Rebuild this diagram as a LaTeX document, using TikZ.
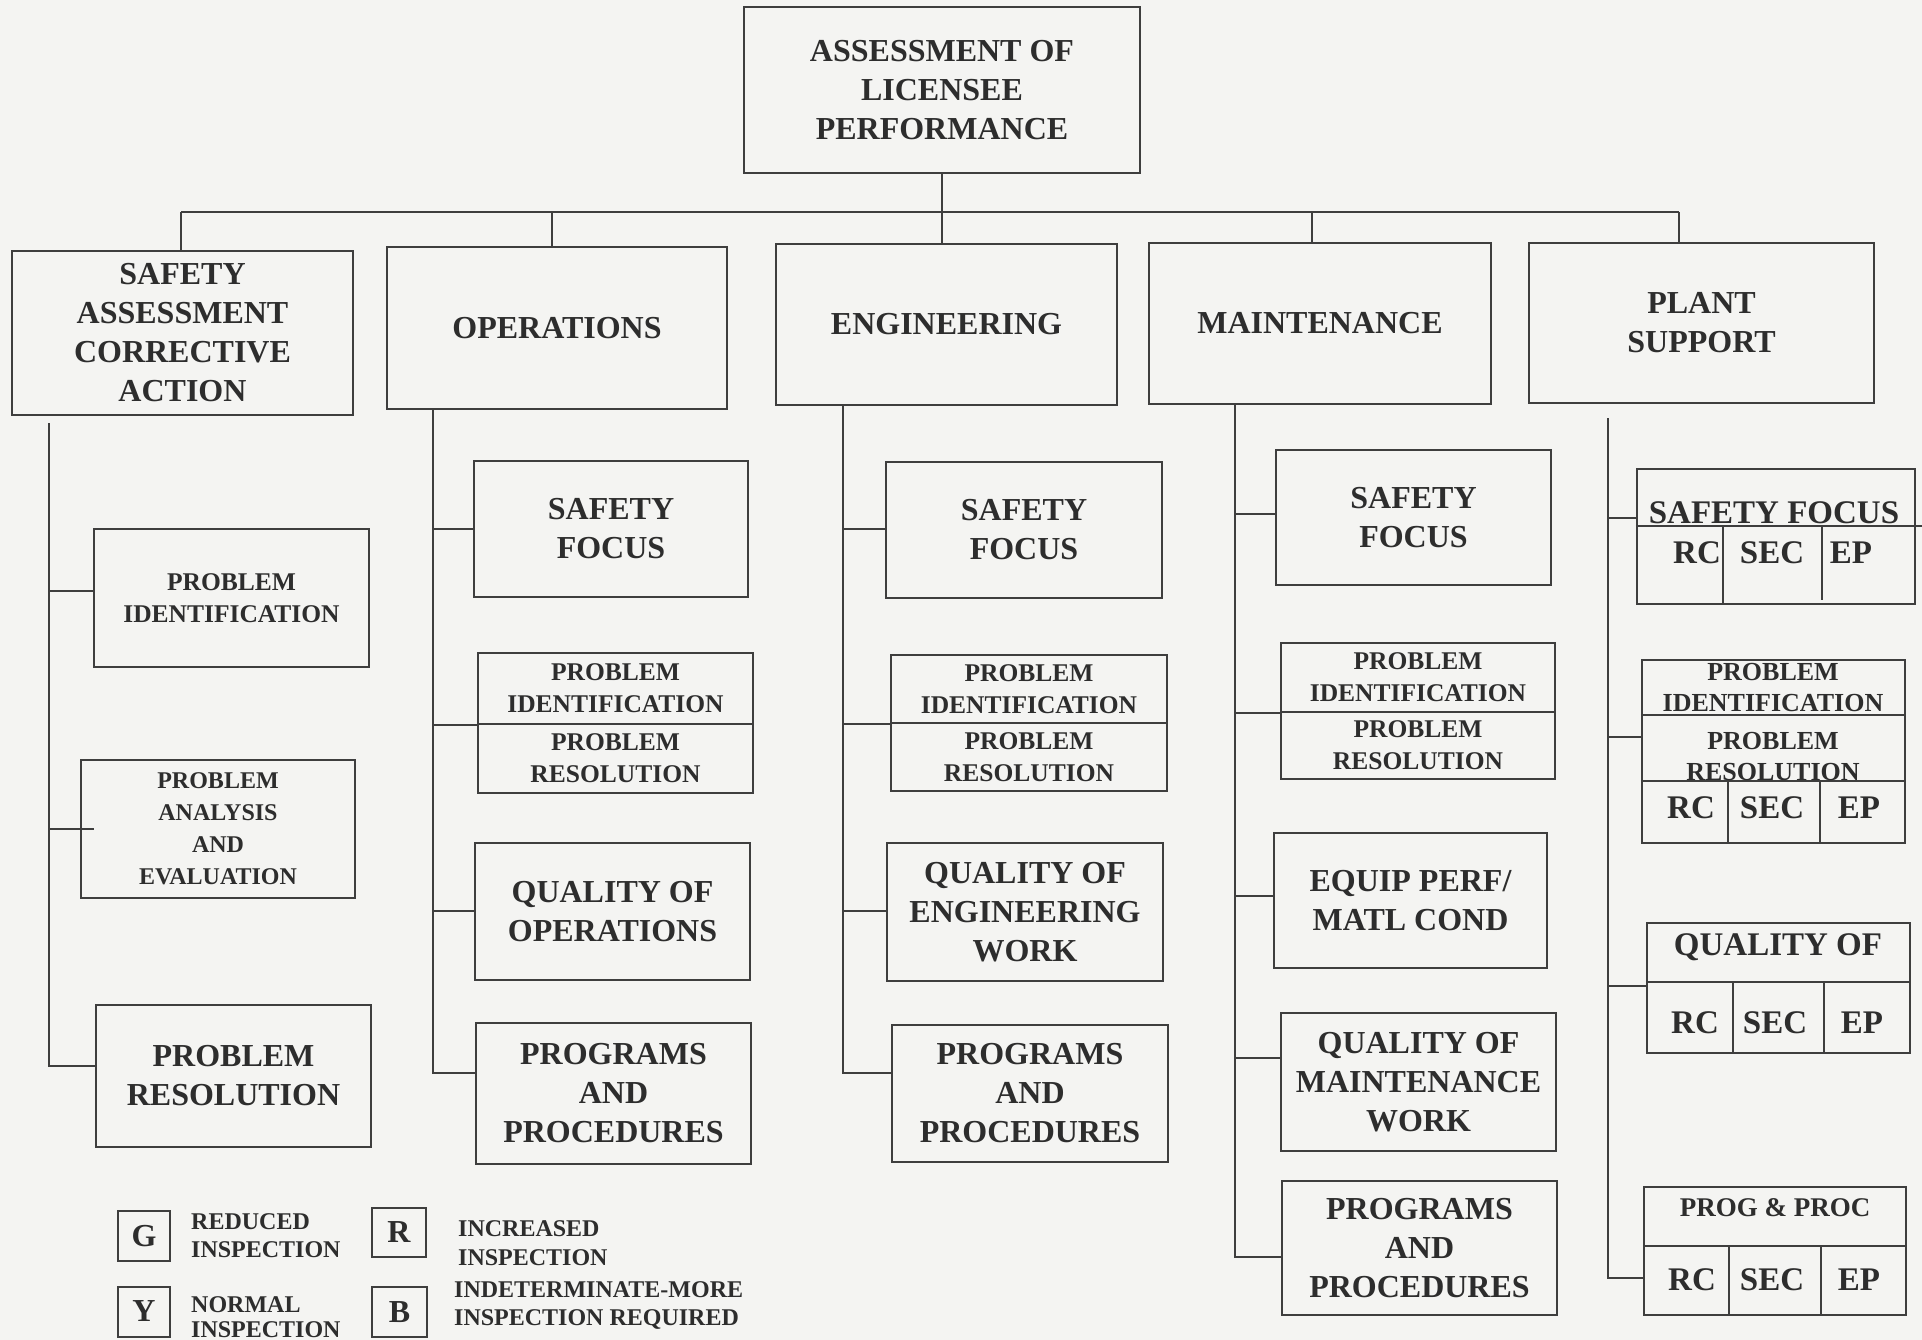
\documentclass[tikz,border=0pt]{standalone}
\usepackage{fontspec}
\setmainfont{Liberation Serif}
\definecolor{bg}{RGB}{244,244,242}
\definecolor{lc}{RGB}{62,62,62}
\definecolor{tc}{RGB}{45,45,45}
\begin{document}
\begin{tikzpicture}[x=1pt,y=-1pt,
  ln/.style={line width=2.4pt, draw=lc},
  bx/.style={draw=lc, line width=2.4pt, inner sep=0pt, align=center, text=tc,
     font=\bfseries\fontsize{32}{39}\selectfont},
  sm/.style={font=\bfseries\fontsize{25.5}{32}\selectfont},
  xs/.style={font=\bfseries\fontsize{24}{32}\selectfont},
  lbl/.style={inner sep=0pt, align=center, text=tc, font=\bfseries\fontsize{32}{39}\selectfont},
  lbs/.style={inner sep=0pt, align=center, text=tc, font=\bfseries\fontsize{26}{31}\selectfont},
  lgbox/.style={draw=lc, line width=2pt, inner sep=0pt, text=tc, minimum width=52pt, minimum height=50pt,
     font=\bfseries\fontsize{32}{36}\selectfont},
  lgtxt/.style={inner sep=0pt, anchor=west, align=left, text=tc, font=\bfseries\fontsize{24}{28}\selectfont},
]
\fill[bg] (0,0) rectangle (1922,1340);
\useasboundingbox (0,0) rectangle (1922,1340);

% top
\node[bx, minimum width=396pt, minimum height=166pt] (top) at (942,90) {ASSESSMENT OF\\LICENSEE\\PERFORMANCE};

% categories
\node[bx, minimum width=341pt, minimum height=164pt] (saca) at (182.5,333) {SAFETY\\ASSESSMENT\\CORRECTIVE\\ACTION};
\node[bx, minimum width=340pt, minimum height=162pt] (ops) at (557,328) {OPERATIONS};
\node[bx, minimum width=341pt, minimum height=161pt] (eng) at (946.5,324.5) {ENGINEERING};
\node[bx, minimum width=342pt, minimum height=161pt] (mnt) at (1320,323.5) {MAINTENANCE};
\node[bx, minimum width=345pt, minimum height=160pt] (ps) at (1701.5,323) {PLANT\\SUPPORT};

% bus
\coordinate (busL) at (181,212);
\coordinate (busR) at (1679,212);
\coordinate (dOps) at (552,212);
\coordinate (dMnt) at (1312,212);
\draw[ln] (top.south) -- (top.south |- busL);
\draw[ln] (busL) -- (busR);
\draw[ln] (busL) -- (busL |- saca.north);
\draw[ln] (dOps) -- (dOps |- ops.north);
\draw[ln] (top.south |- busL) -- (top.south |- eng.north);
\draw[ln] (dMnt) -- (dMnt |- mnt.north);
\draw[ln] (busR) -- (busR |- ps.north);

% SACA column
\node[bx, sm, minimum width=275pt, minimum height=138pt] (sPI) at (231.5,598) {PROBLEM\\IDENTIFICATION};
\node[bx, xs, minimum width=274pt, minimum height=138pt] (sPA) at (218,829) {PROBLEM\\ANALYSIS\\AND\\EVALUATION};
\node[bx, minimum width=275pt, minimum height=142pt] (sPR) at (233.5,1076) {PROBLEM\\RESOLUTION};
\coordinate (sTop) at (49,423);
\coordinate (sBot) at (49,1066);
\coordinate (sC1) at (49,591);
\coordinate (sC2) at (49,829);
\draw[ln] (sTop) -- (sBot) -- (sBot -| sPR.west);
\draw[ln] (sC1) -- (sC1 -| sPI.west);
\draw[ln] (sC2) -- ([xshift=14pt]sC2 -| sPA.west);

% OPERATIONS column
\node[bx, minimum width=274pt, minimum height=136pt] (oSF) at (611,529) {SAFETY\\FOCUS};
\node[bx, sm, minimum width=275pt, minimum height=71pt] (oPI) at (615.5,688.5) {PROBLEM\\IDENTIFICATION};
\node[bx, sm, minimum width=275pt, minimum height=69pt] (oPR) at (615.5,758.5) {PROBLEM\\RESOLUTION};
\node[bx, minimum width=275pt, minimum height=137pt] (oQ) at (612.5,911.5) {QUALITY OF\\OPERATIONS};
\node[bx, minimum width=275pt, minimum height=141pt] (oPP) at (613.5,1093.5) {PROGRAMS\\AND\\PROCEDURES};
\coordinate (oBot) at (433,1073);
\coordinate (oC1) at (433,529);
\coordinate (oC3) at (433,911);
\draw[ln] (ops.south -| oBot) -- (oBot) -- (oBot -| oPP.west);
\draw[ln] (oC1) -- (oC1 -| oSF.west);
\draw[ln] (oBot |- oPI.south) -- (oPI.south west);
\draw[ln] (oC3) -- (oC3 -| oQ.west);

% ENGINEERING column
\node[bx, minimum width=276pt, minimum height=136pt] (eSF) at (1024,530) {SAFETY\\FOCUS};
\node[bx, sm, minimum width=276pt, minimum height=68pt] (ePI) at (1029,689) {PROBLEM\\IDENTIFICATION};
\node[bx, sm, minimum width=276pt, minimum height=68pt] (ePR) at (1029,757) {PROBLEM\\RESOLUTION};
\node[bx, minimum width=276pt, minimum height=138pt] (eQ) at (1025,912) {QUALITY OF\\ENGINEERING\\WORK};
\node[bx, minimum width=276pt, minimum height=137pt] (ePP) at (1030,1093.5) {PROGRAMS\\AND\\PROCEDURES};
\coordinate (eBot) at (843,1073);
\coordinate (eC1) at (843,529);
\coordinate (eC3) at (843,911);
\draw[ln] (eng.south -| eBot) -- (eBot) -- (eBot -| ePP.west);
\draw[ln] (eC1) -- (eC1 -| eSF.west);
\draw[ln] (eBot |- ePI.south) -- (ePI.south west);
\draw[ln] (eC3) -- (eC3 -| eQ.west);

% MAINTENANCE column
\node[bx, minimum width=275pt, minimum height=135pt] (mSF) at (1413.5,517.5) {SAFETY\\FOCUS};
\node[bx, sm, minimum width=274pt, minimum height=69pt] (mPI) at (1418,677.5) {PROBLEM\\IDENTIFICATION};
\node[bx, sm, minimum width=274pt, minimum height=67pt] (mPR) at (1418,745.5) {PROBLEM\\RESOLUTION};
\node[bx, minimum width=273pt, minimum height=135pt] (mEQ) at (1410.5,900.5) {EQUIP PERF/\\MATL COND};
\node[bx, minimum width=275pt, minimum height=138pt] (mQ) at (1418.5,1082) {QUALITY OF\\MAINTENANCE\\WORK};
\node[bx, minimum width=275pt, minimum height=134pt] (mPP) at (1419.5,1248) {PROGRAMS\\AND\\PROCEDURES};
\coordinate (mBot) at (1235,1257);
\coordinate (mC1) at (1235,514);
\coordinate (mC3) at (1235,896);
\coordinate (mC4) at (1235,1058);
\draw[ln] (mnt.south -| mBot) -- (mBot) -- (mBot -| mPP.west);
\draw[ln] (mC1) -- (mC1 -| mSF.west);
\draw[ln] (mBot |- mPI.south) -- (mPI.south west);
\draw[ln] (mC3) -- (mC3 -| mEQ.west);
\draw[ln] (mC4) -- (mC4 -| mQ.west);

% PLANT SUPPORT column
\node[bx, minimum width=278pt, minimum height=135pt] (pSF) at (1776,536.5) {};
\draw[ln] (pSF.west |- 0,526) -- (1922,526);
\draw[ln] (1723,526) -- (1723,604);
\draw[ln] (1822,526) -- (1822,600);
\node[lbl, font=\bfseries\fontsize{33}{39}\selectfont] (pSFt) at (1774,513) {SAFETY FOCUS};
\node[lbl, font=\bfseries\fontsize{33}{39}\selectfont] (pSFa) at (1697,553) {RC};
\node[lbl, font=\bfseries\fontsize{33}{39}\selectfont] (pSFb) at (1772,553) {SEC};
\node[lbl, font=\bfseries\fontsize{33}{39}\selectfont] (pSFc) at (1851,553) {EP};

\node[bx, minimum width=263pt, minimum height=183pt] (pPI) at (1773.5,751.5) {};
\draw[ln] (pPI.west |- 0,715) -- (pPI.east |- 0,715);
\draw[ln] (pPI.west |- 0,781) -- (pPI.east |- 0,781);
\draw[ln] (1728,781) -- (1728,843);
\draw[ln] (1820,781) -- (1820,843);
\node[lbs] (pPIt) at (1773,688) {PROBLEM\\IDENTIFICATION};
\node[lbs] (pPRt) at (1773,757) {PROBLEM\\RESOLUTION};
\node[lbl, font=\bfseries\fontsize{33}{39}\selectfont] (pPIa) at (1691,808) {RC};
\node[lbl, font=\bfseries\fontsize{33}{39}\selectfont] (pPIb) at (1772,808) {SEC};
\node[lbl, font=\bfseries\fontsize{33}{39}\selectfont] (pPIc) at (1859,808) {EP};

\node[bx, minimum width=263pt, minimum height=130pt] (pQ) at (1778.5,988) {};
\draw[ln] (pQ.west |- 0,982) -- (pQ.east |- 0,982);
\draw[ln] (1733,982) -- (1733,1053);
\draw[ln] (1824,982) -- (1824,1053);
\node[lbl, font=\bfseries\fontsize{33}{39}\selectfont] (pQt) at (1778,947) {QUALITY OF};
\node[lbl, font=\bfseries\fontsize{33}{39}\selectfont] (pQa) at (1695,1023) {RC};
\node[lbl, font=\bfseries\fontsize{33}{39}\selectfont] (pQb) at (1775,1023) {SEC};
\node[lbl, font=\bfseries\fontsize{33}{39}\selectfont] (pQc) at (1862,1023) {EP};

\node[bx, minimum width=262pt, minimum height=128pt] (pPP) at (1775,1251) {};
\draw[ln] (pPP.west |- 0,1246) -- (pPP.east |- 0,1246);
\draw[ln] (1729,1246) -- (1729,1315);
\draw[ln] (1821,1246) -- (1821,1315);
\node[lbl, font=\bfseries\fontsize{27}{32}\selectfont] (pPPt) at (1775,1208) {PROG \& PROC};
\node[lbl, font=\bfseries\fontsize{33}{39}\selectfont] (pPPa) at (1692,1280) {RC};
\node[lbl, font=\bfseries\fontsize{33}{39}\selectfont] (pPPb) at (1772,1280) {SEC};
\node[lbl, font=\bfseries\fontsize{33}{39}\selectfont] (pPPc) at (1859,1280) {EP};

\coordinate (pTop) at (1608,418);
\coordinate (pBot) at (1608,1278);
\coordinate (pC1) at (1608,518);
\coordinate (pC2) at (1608,737);
\coordinate (pC3) at (1608,986);
\draw[ln] (pTop) -- (pBot) -- (pBot -| pPP.west);
\draw[ln] (pC1) -- (pC1 -| pSF.west);
\draw[ln] (pC2) -- (pC2 -| pPI.west);
\draw[ln] (pC3) -- (pC3 -| pQ.west);

% legend
\node[lgbox] (lgG) at (144,1236) {G};
\node[lgbox, minimum width=54pt, minimum height=49pt] (lgR) at (399,1232.5) {R};
\node[lgbox] (lgY) at (144,1311.5) {Y};
\node[lgbox, minimum width=55pt] (lgB) at (399.5,1312) {B};
\node[lgtxt] (tG) at (191,1236) {REDUCED\\INSPECTION};
\node[lgtxt, font=\bfseries\fontsize{24}{29}\selectfont] (tR) at (458,1243.5) {INCREASED\\INSPECTION};
\node[lgtxt, font=\bfseries\fontsize{24}{25}\selectfont] (tY) at (191,1317.5) {NORMAL\\INSPECTION};
\node[lgtxt] (tB) at (454,1305) {INDETERMINATE-MORE\\INSPECTION REQUIRED};
\end{tikzpicture}
\end{document}
